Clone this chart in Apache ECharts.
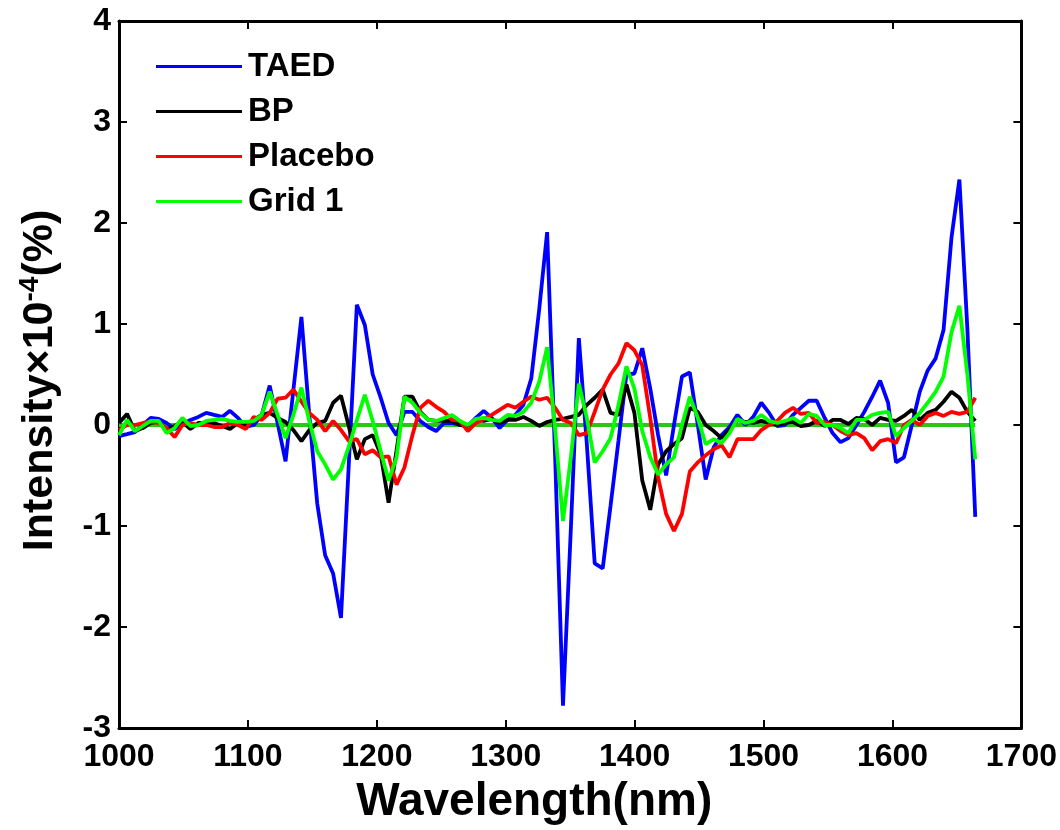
<!DOCTYPE html>
<html>
<head>
<meta charset="utf-8">
<script src="https://cdn.jsdelivr.net/npm/echarts@6/dist/echarts.min.js"></script>
<style>
  html, body { margin: 0; background: #fff; }
  #chart { width: 1060px; height: 830px; }
</style>
</head>
<body>
<div id="chart"></div>
<script>
// wavelength grid (nm)
const wavelengths = [
  1000.0, 1006.2, 1012.3, 1018.5, 1024.6, 1030.8, 1036.9, 1043.1, 1049.2, 1055.4,
  1061.5, 1067.7, 1073.8, 1080.0, 1086.1, 1092.3, 1098.4, 1104.6, 1110.7, 1116.9,
  1123.0, 1129.2, 1135.3, 1141.5, 1147.6, 1153.8, 1159.9, 1166.1, 1172.2, 1178.4,
  1184.5, 1190.7, 1196.8, 1203.0, 1209.1, 1215.3, 1221.4, 1227.6, 1233.7, 1239.9,
  1246.0, 1252.2, 1258.3, 1264.5, 1270.6, 1276.8, 1282.9, 1289.1, 1295.2, 1301.4,
  1307.5, 1313.7, 1319.8, 1326.0, 1332.1, 1338.3, 1344.4, 1350.6, 1356.7, 1362.9,
  1369.0, 1375.2, 1381.3, 1387.5, 1393.6, 1399.8, 1405.9, 1412.1, 1418.2, 1424.4,
  1430.5, 1436.7, 1442.8, 1449.0, 1455.1, 1461.3, 1467.4, 1473.6, 1479.7, 1485.9,
  1492.0, 1498.2, 1504.3, 1510.5, 1516.6, 1522.8, 1528.9, 1535.1, 1541.2, 1547.4,
  1553.5, 1559.7, 1565.8, 1572.0, 1578.1, 1584.3, 1590.4, 1596.6, 1602.7, 1608.9,
  1615.0, 1621.2, 1627.3, 1633.5, 1639.6, 1645.8, 1651.9, 1658.1, 1664.2
];

const taed = [
  -0.11, -0.09, -0.07, 0.00, 0.07, 0.06, 0.02, -0.04, 0.01, 0.05,
  0.08, 0.12, 0.10, 0.08, 0.14, 0.07, -0.02, 0.00, 0.10, 0.39,
  0.02, -0.36, 0.35, 1.07, 0.10, -0.78, -1.29, -1.47, -1.91, -0.35,
  1.19, 0.99, 0.50, 0.27, 0.02, -0.10, 0.13, 0.13, 0.04, -0.02,
  -0.06, 0.02, 0.02, 0.00, -0.01, 0.07, 0.14, 0.07, -0.03, 0.05,
  0.10, 0.20, 0.46, 1.15, 1.91, -0.31, -2.78, -1.00, 0.86, -0.19,
  -1.37, -1.42, -0.80, -0.15, 0.50, 0.51, 0.76, 0.36, -0.10, -0.50,
  0.00, 0.48, 0.52, 0.00, -0.54, -0.22, -0.10, -0.02, 0.10, 0.00,
  0.08, 0.22, 0.12, -0.01, 0.00, 0.10, 0.17, 0.24, 0.24, 0.07,
  -0.08, -0.17, -0.13, 0.00, 0.13, 0.28, 0.44, 0.22, -0.37, -0.32,
  0.00, 0.33, 0.54, 0.66, 0.94, 1.86, 2.43, 0.95, -0.91
];

const bp = [
  0.02, 0.11, -0.06, -0.03, 0.02, 0.03, -0.05, -0.01, 0.03, -0.04,
  0.02, 0.02, 0.02, -0.01, -0.04, 0.02, 0.00, 0.05, 0.10, 0.12,
  0.07, 0.03, -0.05, -0.16, -0.05, 0.02, 0.04, 0.22, 0.29, -0.02,
  -0.34, -0.14, -0.10, -0.29, -0.77, -0.25, 0.28, 0.28, 0.13, 0.05,
  0.04, 0.04, 0.04, 0.00, 0.00, 0.05, 0.04, 0.06, 0.02, 0.05,
  0.05, 0.08, 0.04, -0.01, 0.03, 0.05, 0.06, 0.08, 0.10, 0.20,
  0.27, 0.35, 0.12, 0.10, 0.40, 0.12, -0.55, -0.84, -0.39, -0.26,
  -0.19, -0.13, 0.17, 0.13, 0.00, -0.06, -0.13, -0.05, 0.05, 0.03,
  0.02, 0.04, 0.02, 0.00, 0.02, 0.03, -0.01, 0.00, 0.04, -0.01,
  0.05, 0.05, 0.01, 0.07, 0.06, 0.00, 0.07, 0.05, 0.04, 0.09,
  0.15, 0.05, 0.12, 0.15, 0.23, 0.33, 0.27, 0.13, 0.04
];

const placebo = [
  -0.05, 0.00, 0.00, 0.02, 0.03, 0.02, -0.03, -0.12, 0.00, 0.02,
  0.00, 0.00, -0.02, -0.02, 0.02, 0.00, -0.04, 0.08, 0.05, 0.12,
  0.26, 0.27, 0.35, 0.23, 0.12, 0.05, -0.06, 0.04, -0.05, -0.16,
  -0.14, -0.29, -0.25, -0.32, -0.31, -0.59, -0.42, -0.10, 0.17, 0.24,
  0.18, 0.13, 0.05, 0.04, -0.06, 0.02, 0.06, 0.10, 0.15, 0.20,
  0.17, 0.23, 0.28, 0.25, 0.27, 0.17, 0.05, 0.02, -0.10, -0.08,
  0.13, 0.35, 0.50, 0.61, 0.81, 0.74, 0.59, 0.07, -0.52, -0.88,
  -1.05, -0.88, -0.46, -0.37, -0.30, -0.24, -0.20, -0.32, -0.14, -0.14,
  -0.14, -0.05, 0.00, 0.04, 0.12, 0.17, 0.11, 0.12, 0.02, 0.03,
  0.00, -0.06, -0.10, -0.08, -0.13, -0.25, -0.16, -0.14, -0.18, 0.00,
  0.05, 0.00, 0.09, 0.12, 0.09, 0.13, 0.11, 0.13, 0.27
];

const grid1 = [
  -0.10, 0.05, -0.06, -0.01, 0.04, 0.04, -0.08, -0.03, 0.07, -0.01,
  0.00, 0.04, 0.05, 0.06, 0.04, 0.03, 0.03, 0.04, 0.10, 0.33,
  0.10, -0.13, 0.10, 0.37, 0.04, -0.26, -0.39, -0.54, -0.44, -0.21,
  0.05, 0.30, 0.04, -0.26, -0.55, -0.32, 0.28, 0.22, 0.12, 0.05,
  0.04, 0.07, 0.10, 0.04, 0.00, 0.06, 0.07, 0.05, 0.04, 0.10,
  0.09, 0.13, 0.22, 0.43, 0.77, -0.04, -0.95, -0.31, 0.41, 0.07,
  -0.37, -0.26, -0.13, 0.20, 0.58, 0.36, -0.06, -0.32, -0.49, -0.39,
  -0.32, 0.00, 0.28, 0.07, -0.19, -0.14, -0.18, -0.08, 0.06, 0.02,
  0.04, 0.10, 0.04, 0.02, 0.04, 0.07, 0.02, 0.11, 0.09, 0.00,
  0.00, -0.03, -0.08, 0.05, 0.05, 0.10, 0.12, 0.13, -0.11, -0.03,
  0.04, 0.12, 0.22, 0.33, 0.48, 0.92, 1.18, 0.50, -0.34
];

// zero reference line drawn across the data range
const baselineX = [1000, 1664.2];
const baselineY = [0, 0];

const seriesNames = ["TAED", "BP", "Placebo", "Grid 1"];
const seriesColors = ["#0000ff", "#000000", "#ff0000", "#00ff00"];
const seriesValues = [taed, bp, placebo, grid1];

const FONT = "'Liberation Sans', Arial, sans-serif";

const chart = echarts.init(document.getElementById("chart"));

function toPairs(xs, ys) {
  return ys.map((y, i) => [xs[i], y]);
}

const axisLine = { onZero: false, lineStyle: { color: "#000", width: 3 } };
const axisTick = { inside: true, length: 8, lineStyle: { color: "#000", width: 2 } };
const tickLabel = {
  color: "#000",
  fontSize: 32,
  fontWeight: "bold",
  fontFamily: FONT,
  formatter: (v) => String(v)
};

const lineSeries = seriesNames.map((name, i) => ({
  name: name,
  type: "line",
  data: toPairs(wavelengths, seriesValues[i]),
  showSymbol: false,
  symbol: "none",
  lineStyle: { color: seriesColors[i], width: 3.8 },
  itemStyle: { color: seriesColors[i] },
  z: 3 + i
}));

chart.setOption({
  animation: false,
  backgroundColor: "#fff",
  grid: { left: 119, right: 38, top: 21, bottom: 98 },
  legend: {
    orient: "vertical",
    left: 151,
    top: 44,
    icon: "rect",
    itemWidth: 86,
    itemHeight: 3,
    itemGap: 10,
    data: seriesNames,
    textStyle: {
      color: "#000",
      fontSize: 33,
      fontWeight: "bold",
      fontFamily: FONT,
      lineHeight: 35,
      padding: [0, 0, 0, 1]
    }
  },
  xAxis: [
    {
      type: "value",
      min: 1000,
      max: 1700,
      interval: 100,
      position: "bottom",
      axisLine: axisLine,
      axisTick: axisTick,
      splitLine: { show: false },
      axisLabel: Object.assign({ margin: 13 }, tickLabel),
      name: "Wavelength(nm)",
      nameLocation: "middle",
      nameGap: 51,
      nameTextStyle: {
        color: "#000",
        fontSize: 46,
        fontWeight: "bold",
        fontFamily: FONT,
        padding: [0, 72, 0, 0]
      }
    },
    {
      type: "value",
      min: 1000,
      max: 1700,
      interval: 100,
      position: "top",
      axisLine: axisLine,
      axisTick: axisTick,
      splitLine: { show: false },
      axisLabel: { show: false }
    }
  ],
  yAxis: [
    {
      type: "value",
      min: -3,
      max: 4,
      interval: 1,
      position: "left",
      axisLine: axisLine,
      axisTick: axisTick,
      splitLine: { show: false },
      axisLabel: Object.assign({ margin: 8 }, tickLabel),
      name: "Intensity\u00d710{sup|-4}(%)",
      nameLocation: "middle",
      nameGap: 55,
      nameTextStyle: {
        color: "#000",
        fontSize: 43,
        fontWeight: "bold",
        fontFamily: FONT,
        padding: [0, 12, 0, 0],
        rich: {
          sup: {
            color: "#000",
            fontSize: 28,
            fontWeight: "bold",
            fontFamily: FONT,
            verticalAlign: "top",
            padding: [0, 0, 20, 0]
          }
        }
      }
    },
    {
      type: "value",
      min: -3,
      max: 4,
      interval: 1,
      position: "right",
      axisLine: axisLine,
      axisTick: axisTick,
      splitLine: { show: false },
      axisLabel: { show: false }
    }
  ],
  series: [
    {
      name: "baseline",
      type: "line",
      data: toPairs(baselineX, baselineY),
      showSymbol: false,
      symbol: "none",
      lineStyle: { color: "#2fc41a", width: 4 },
      z: 2,
      silent: true
    }
  ].concat(lineSeries)
});

window.addEventListener("resize", () => chart.resize());
</script>
</body>
</html>
